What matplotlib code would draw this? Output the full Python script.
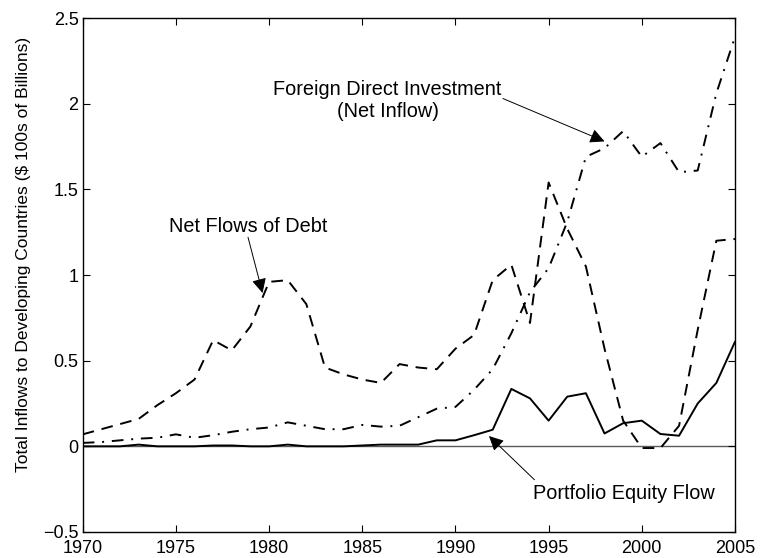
import numpy as np
import matplotlib
matplotlib.use("Agg")
import matplotlib.pyplot as plt

plt.rcParams['font.family'] = ['Liberation Sans', 'DejaVu Sans']
plt.rcParams['font.size'] = 13

# Data (values in $ 100s of billions)
years = np.arange(1970, 2006)

debt = [0.07, 0.10, 0.13, 0.16, 0.24, 0.31, 0.39, 0.62, 0.56, 0.70,
        0.96, 0.97, 0.83, 0.46, 0.42, 0.39, 0.37, 0.48, 0.46, 0.45,
        0.57, 0.65, 0.97, 1.06, 0.72, 1.54, 1.27, 1.05, 0.57, 0.15,
        -0.01, -0.01, 0.12, 0.68, 1.20, 1.21]

fdi = [0.02, 0.025, 0.035, 0.045, 0.05, 0.07, 0.05, 0.065, 0.085, 0.10,
       0.11, 0.14, 0.12, 0.10, 0.10, 0.125, 0.115, 0.12, 0.17, 0.22,
       0.23, 0.33, 0.45, 0.66, 0.90, 1.04, 1.31, 1.69, 1.74, 1.84,
       1.69, 1.77, 1.60, 1.61, 2.06, 2.39]

equity = [0.0, 0.0, 0.0, 0.01, 0.0, 0.0, 0.0, 0.005, 0.005, 0.0,
          0.0, 0.01, 0.0, 0.0, 0.0, 0.005, 0.01, 0.01, 0.01, 0.035,
          0.035, 0.065, 0.097, 0.335, 0.28, 0.15, 0.29, 0.31, 0.075, 0.135,
          0.15, 0.072, 0.062, 0.25, 0.37, 0.61]

xticks = [1970, 1975, 1980, 1985, 1990, 1995, 2000, 2005]
yticks = [-0.5, 0, 0.5, 1, 1.5, 2, 2.5]
ytick_labels = ['\u22120.5', '0', '0.5', '1', '1.5', '2', '2.5']

fig = plt.figure(figsize=(7.61, 5.58), dpi=100)
ax = fig.add_axes([0.1087, 0.0466, 0.8571, 0.9211])

ax.plot([1970, 2005], [0, 0], color='0.35', lw=1.0, zorder=1)
ax.plot(years, debt, color='k', lw=1.4, dashes=(6, 4))
ax.plot(years, fdi, color='k', lw=1.4, dashes=(6, 4, 1, 4))
ax.plot(years, equity, color='k', lw=1.4)

ax.set_xlim(1970, 2005)
ax.set_ylim(-0.5, 2.5)
ax.set_xticks(xticks)
ax.set_yticks(yticks)
ax.set_yticklabels(ytick_labels)
ax.tick_params(direction='in', top=True, right=True, length=5, width=0.8, pad=3)
ax.tick_params(axis='x', pad=5.5)
for s in ax.spines.values():
    s.set_linewidth(1.0)
ax.set_ylabel('Total Inflows to Developing Countries ($ 100s of Billions)', fontsize=12.5, labelpad=3)
ax.yaxis.set_label_coords(-0.079, 0.54)

# annotations
fs = 14.3
arrow = dict(arrowstyle='-|>', color='k', lw=0.7, mutation_scale=22, shrinkA=0, shrinkB=0)
ax.annotate('', xy=(1998.0, 1.78), xytext=(1992.55, 2.03), arrowprops=arrow)
ax.text(1986.36, 2.02, 'Foreign Direct Investment\n(Net Inflow)', ha='center', va='center',
        linespacing=1.2, fontsize=fs)

ax.annotate('', xy=(1979.65, 0.895), xytext=(1978.87, 1.22), arrowprops=arrow)
ax.text(1978.86, 1.284, 'Net Flows of Debt', ha='center', va='center', fontsize=fs)

ax.annotate('', xy=(1991.8, 0.06), xytext=(1994.24, -0.195), arrowprops=arrow)
ax.text(1999.05, -0.273, 'Portfolio Equity Flow', ha='center', va='center', fontsize=fs)

fig.savefig('out.png', dpi=100)
